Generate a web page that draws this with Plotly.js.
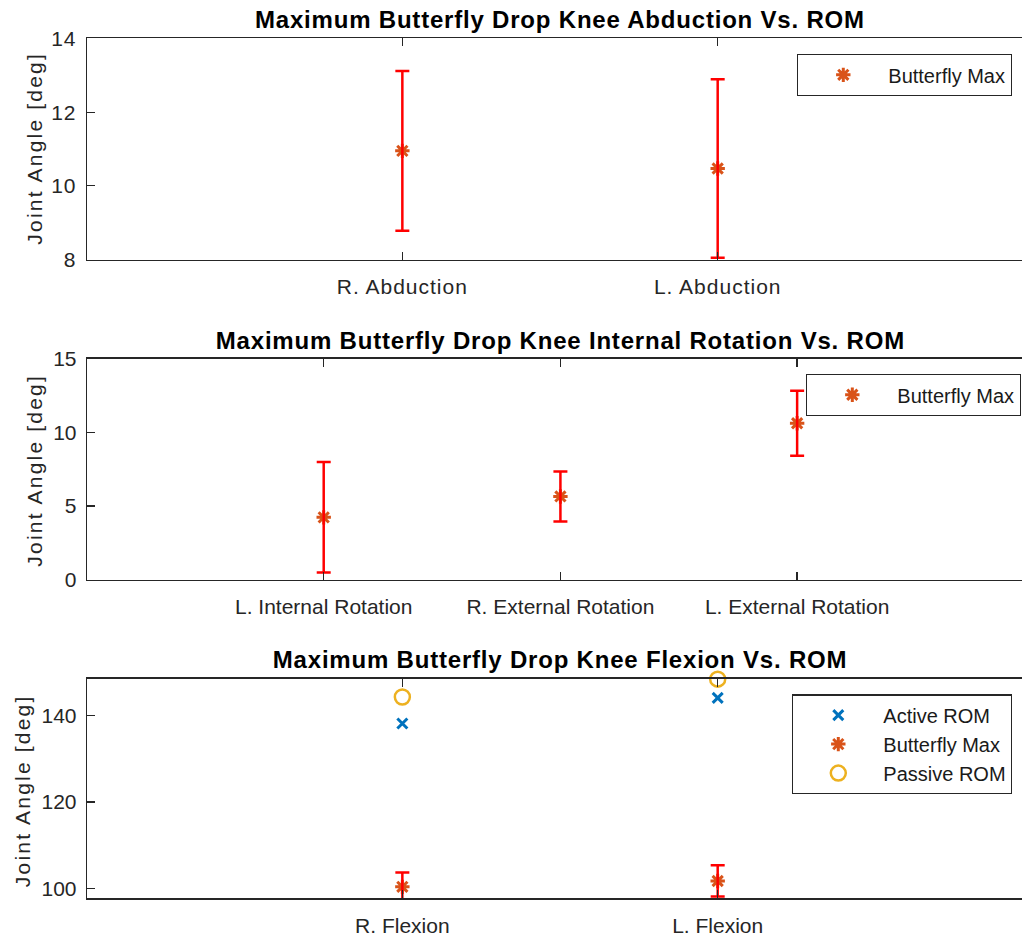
<!DOCTYPE html>
<html>
<head>
<meta charset="utf-8">
<script src="https://cdn.plot.ly/plotly-3.0.1.min.js"></script>
<style>
  html, body { margin: 0; padding: 0; background: #fff; }
  #chart { width: 1022px; height: 938px; }
  /* wider letter spacing, in the style of MATLAB figure text */
  #chart .xtick text, #chart .ytick text { letter-spacing: 1px; }
  #chart g.annotation[data-index="0"] text,
  #chart g.annotation[data-index="1"] text,
  #chart g.annotation[data-index="2"] text { letter-spacing: 0.8px; }
  #chart g.annotation[data-index="3"] text,
  #chart g.annotation[data-index="4"] text,
  #chart g.annotation[data-index="5"] text { letter-spacing: 2.2px; }
</style>
</head>
<body>
<div id="chart"></div>
<script>
// Knee abduction
const abdCategories = ['R. Abduction', 'L. Abduction'];
const abdButterflyMax = [10.95, 10.47];
const abdError = [2.17, 2.42];

// Knee internal / external rotation
const rotCategories = ['L. Internal Rotation', 'R. External Rotation', 'L. External Rotation'];
const rotButterflyMax = [4.23, 5.65, 10.62];
const rotError = [3.75, 1.70, 2.20];

// Knee flexion
const flexCategories = ['R. Flexion', 'L. Flexion'];
const flexActiveROM = [138.1, 144.0];
const flexButterflyMax = [100.45, 101.8];
const flexError = [3.3, 3.6];
const flexPassiveROM = [144.2, 148.3];

const FONT = 'Liberation Sans, Arial, Helvetica, sans-serif';
const AXIS_COLOR = '#262626';
const BLUE = '#0072BD';
const ORANGE = '#D95319';
const YELLOW = '#EDB120';
const RED = '#FF0000';

const idx = arr => arr.map((_, i) => i + 1);

const butterflyMarker = { symbol: 'asterisk-open', size: 12, color: ORANGE, line: { color: ORANGE, width: 3 } };

function errTrace(xa, ya, x, y, e) {
  return {
    x: x, y: y, xaxis: xa, yaxis: ya, type: 'scatter', mode: 'markers',
    marker: { size: 1, opacity: 0 }, showlegend: false, hoverinfo: 'skip', cliponaxis: false,
    error_y: { type: 'data', array: e, visible: true, color: RED, thickness: 2.5, width: 7 }
  };
}

const traces = [
  {
    x: idx(abdCategories), y: abdButterflyMax, xaxis: 'x', yaxis: 'y', type: 'scatter', mode: 'markers',
    name: 'Butterfly Max', marker: butterflyMarker, legend: 'legend', cliponaxis: false
  },
  errTrace('x', 'y', idx(abdCategories), abdButterflyMax, abdError),

  {
    x: idx(rotCategories), y: rotButterflyMax, xaxis: 'x2', yaxis: 'y2', type: 'scatter', mode: 'markers',
    name: 'Butterfly Max', marker: butterflyMarker, legend: 'legend2', cliponaxis: false
  },
  errTrace('x2', 'y2', idx(rotCategories), rotButterflyMax, rotError),

  {
    x: idx(flexCategories), y: flexActiveROM, xaxis: 'x3', yaxis: 'y3', type: 'scatter', mode: 'markers',
    name: 'Active ROM', legend: 'legend3', cliponaxis: false,
    marker: { symbol: 'x-thin-open', size: 10, color: BLUE, line: { color: BLUE, width: 3 } }
  },
  {
    x: idx(flexCategories), y: flexButterflyMax, xaxis: 'x3', yaxis: 'y3', type: 'scatter', mode: 'markers',
    name: 'Butterfly Max', marker: butterflyMarker, legend: 'legend3', cliponaxis: false
  },
  {
    x: idx(flexCategories), y: flexPassiveROM, xaxis: 'x3', yaxis: 'y3', type: 'scatter', mode: 'markers',
    name: 'Passive ROM', legend: 'legend3', cliponaxis: false,
    marker: { symbol: 'circle-open', size: 15, color: YELLOW, line: { color: YELLOW, width: 2.5 } }
  },
  errTrace('x3', 'y3', idx(flexCategories), flexButterflyMax, flexError)
];

function xAxis(cats, range, anchor) {
  return {
    anchor: anchor, domain: [0, 1], range: range, tickvals: idx(cats), ticktext: cats,
    ticks: 'inside', ticklen: 8, tickwidth: 1.3, tickcolor: AXIS_COLOR,
    showline: true, linecolor: AXIS_COLOR, linewidth: 1.3, mirror: 'ticks',
    showgrid: false, zeroline: false, ticklabelstandoff: 8,
    tickfont: { family: FONT, size: 21, color: AXIS_COLOR }, fixedrange: true
  };
}
function yAxis(domain, range, dtick, anchor) {
  return {
    anchor: anchor, domain: domain, range: range, dtick: dtick,
    ticks: 'inside', ticklen: 8, tickwidth: 1.3, tickcolor: AXIS_COLOR,
    showline: true, linecolor: AXIS_COLOR, linewidth: 1.3,
    showgrid: false, zeroline: false, ticklabelstandoff: 5,
    tickfont: { family: FONT, size: 21, color: AXIS_COLOR }, fixedrange: true
  };
}

function legendCfg(x, xanchor, y) {
  return {
    x: x, xanchor: xanchor, y: y, yanchor: 'top',
    bgcolor: '#ffffff', bordercolor: AXIS_COLOR, borderwidth: 1.3,
    font: { family: FONT, size: 20, color: '#1a1a1a' }, itemwidth: 80, tracegroupgap: 0
  };
}

function title(text, xref, x, y) {
  return {
    text: '<b>' + text + '</b>', xref: xref, x: x, yref: 'paper', y: y, xanchor: 'center', yanchor: 'middle',
    showarrow: false, font: { family: FONT, size: 24, color: '#000' }
  };
}
function yLabel(x, y) {
  return {
    text: 'Joint Angle [deg]', xref: 'paper', x: x, yref: 'paper', y: y, xanchor: 'center', yanchor: 'middle',
    textangle: -90, showarrow: false, font: { family: FONT, size: 21, color: AXIS_COLOR }
  };
}

const layout = {
  width: 1022, height: 938,
  margin: { l: 87, r: 0, t: 0, b: 0 },
  paper_bgcolor: '#ffffff', plot_bgcolor: '#ffffff',
  showlegend: true,
  xaxis: xAxis(abdCategories, [0, 2.965], 'y'),
  yaxis: yAxis([0.7233, 0.959], [8, 14], 2, 'x'),
  xaxis2: xAxis(rotCategories, [0, 3.95], 'y2'),
  yaxis2: yAxis([0.382, 0.6176], [0, 15], 5, 'x2'),
  xaxis3: xAxis(flexCategories, [0, 2.965], 'y3'),
  yaxis3: yAxis([0.0423, 0.2764], [97.8, 148.4], 20, 'x3'),
  legend: legendCfg(0.9893, 'right', 0.9424),
  legend2: legendCfg(0.769, 'left', 0.6013),
  legend3: legendCfg(0.9893, 'right', 0.2598),
  annotations: [
    title('Maximum Butterfly Drop Knee Abduction Vs. ROM', 'x', 1.5, 0.9797),
    title('Maximum Butterfly Drop Knee Internal Rotation Vs. ROM', 'x2', 2, 0.6375),
    title('Maximum Butterfly Drop Knee Flexion Vs. ROM', 'x3', 1.5, 0.2964),
    yLabel(-0.0556, 0.8412),
    yLabel(-0.0556, 0.4979),
    yLabel(-0.069, 0.1567)
  ]
};

Plotly.newPlot('chart', traces, layout, { displayModeBar: false, staticPlot: true });
</script>
</body>
</html>
